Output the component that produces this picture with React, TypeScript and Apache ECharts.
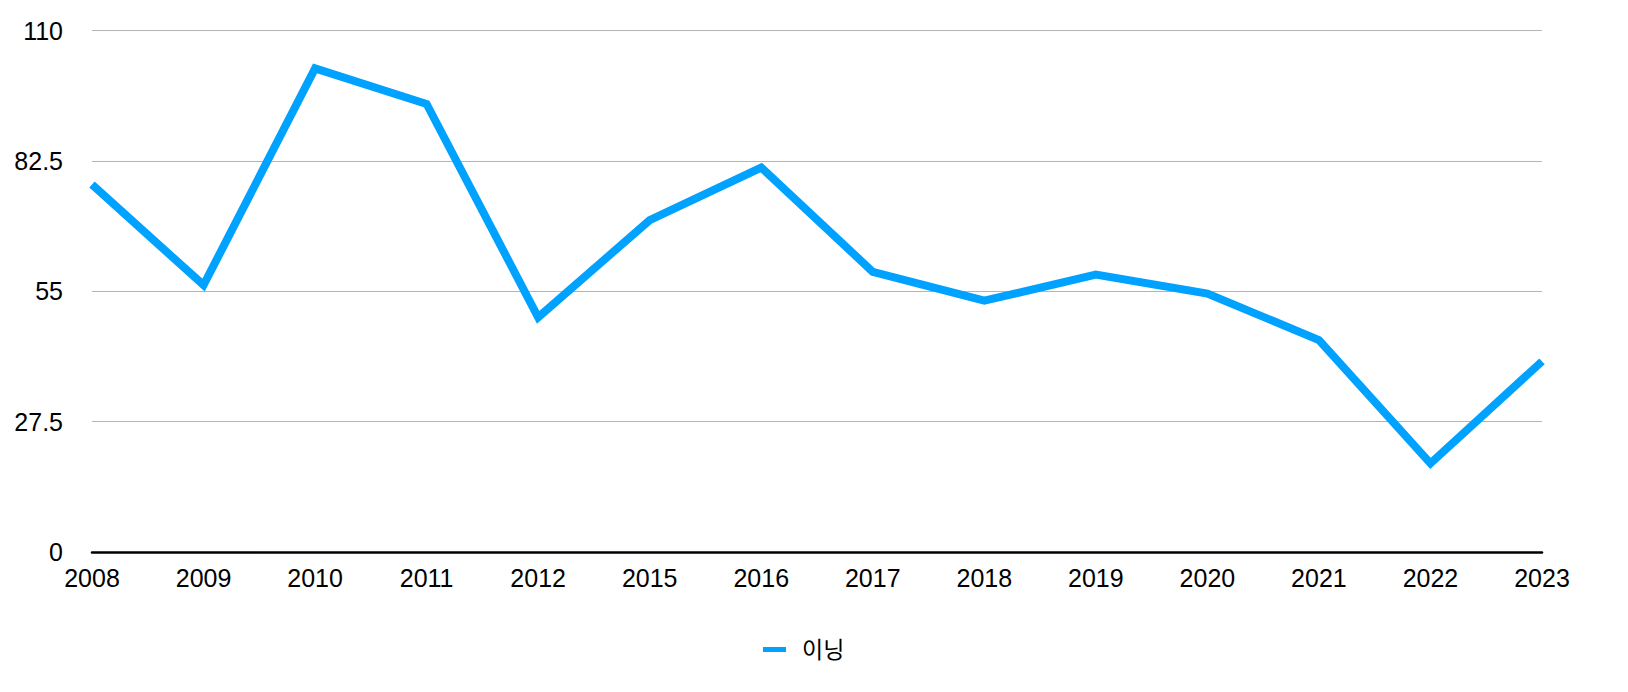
import React, { useEffect, useRef } from "react";
import * as echarts from "echarts";

const categories = ["2008", "2009", "2010", "2011", "2012", "2015", "2016", "2017", "2018", "2019", "2020", "2021", "2022", "2023"];
const seriesName = "이닝";
const values = [77.5, 56.3, 102, 94.5, 49.5, 70, 81.1, 59.1, 53, 58.5, 54.5, 44.7, 18.7, 40.2];
const yMin = 0;
const yMax = 110;
const yInterval = 27.5;

const FONT = "'Liberation Sans', Arial, 'Noto Sans CJK KR', sans-serif";

export default function App() {
  const ref = useRef<HTMLDivElement>(null);
  useEffect(() => {
    if (!ref.current) return;
    const chart = echarts.init(ref.current, undefined, { renderer: "svg" });
    chart.setOption({
      animation: false,
      backgroundColor: "#ffffff",
      grid: { left: 92, right: 86, top: 30.5, bottom: 140, containLabel: false },
      legend: {
        data: [{ name: seriesName, icon: "rect" }],
        left: 758,
        top: 633,
        itemWidth: 23,
        itemHeight: 5,
        itemGap: 10,
        textStyle: { fontFamily: FONT, fontSize: 23, color: "#000", padding: [0, 0, 0, 11] },
      },
      xAxis: {
        type: "category",
        data: categories,
        boundaryGap: false,
        axisLine: { show: true, lineStyle: { color: "#000", width: 2.5 } },
        axisTick: { show: false },
        axisLabel: { fontFamily: FONT, fontSize: 25, color: "#000", margin: 13 },
        splitLine: { show: false },
      },
      yAxis: {
        type: "value",
        min: yMin,
        max: yMax,
        interval: yInterval,
        axisLine: { show: false },
        axisTick: { show: false },
        axisLabel: { fontFamily: FONT, fontSize: 25, color: "#000", margin: 29 },
        splitLine: { show: true, lineStyle: { color: "#b4b4b4", width: 1 } },
      },
      series: [
        {
          name: seriesName,
          type: "line",
          data: values,
          symbol: "none",
          lineStyle: { color: "#00a2ff", width: 8, join: "miter" },
          itemStyle: { color: "#00a2ff" },
        },
      ],
    });
    return () => chart.dispose();
  }, []);
  return <div ref={ref} style={{ position: "fixed", left: 0, top: 0, width: 1628, height: 692 }} />;
}
